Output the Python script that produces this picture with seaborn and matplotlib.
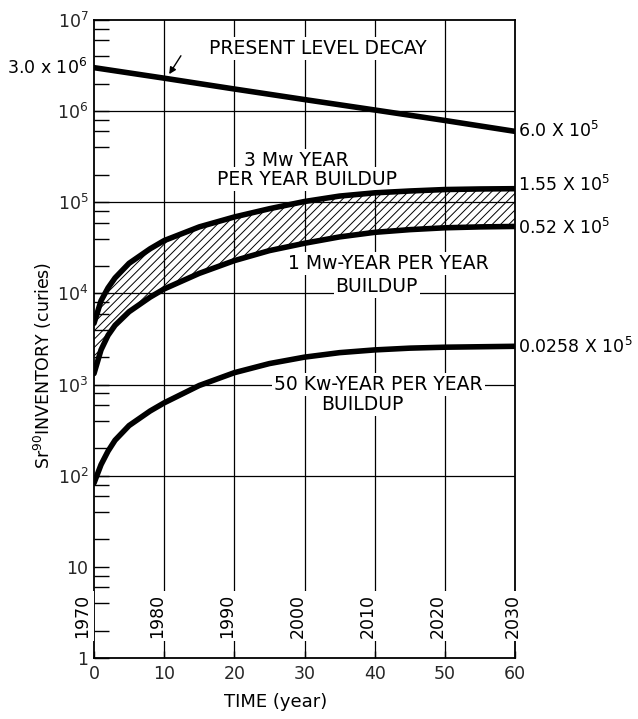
import numpy as np
import pandas as pd
import matplotlib
matplotlib.use("Agg")
import matplotlib.pyplot as plt
import seaborn as sns
from matplotlib.ticker import LogLocator, NullFormatter

# values
T_BUILD = [0, 1, 2, 3, 5, 8, 10, 15, 20, 25, 30, 35, 40, 45, 50, 55, 60]
MW3 = [4.7e3, 8.3e3, 1.15e4, 1.48e4, 2.14e4, 3.09e4, 3.8e4, 5.37e4, 6.9e4, 8.5e4,
       1.02e5, 1.17e5, 1.27e5, 1.33e5, 1.38e5, 1.40e5, 1.41e5]
MW1 = [1.32e3, 2.4e3, 3.47e3, 4.47e3, 6.3e3, 9.1e3, 1.12e4, 1.66e4, 2.29e4, 2.95e4,
       3.55e4, 4.17e4, 4.68e4, 5.01e4, 5.25e4, 5.37e4, 5.43e4]
KW50 = [83, 132, 186, 245, 355, 513, 630, 977, 1350, 1700,
        2000, 2240, 2400, 2510, 2570, 2600, 2630]

T_DECAY = [0, 10, 20, 30, 40, 50, 60]
DECAY = [3.0e6, 2.3e6, 1.75e6, 1.34e6, 1.03e6, 7.9e5, 6.0e5]

X_TICKS = [0, 10, 20, 30, 40, 50, 60]
YEARS = ["1970", "1980", "1990", "2000", "2010", "2020", "2030"]
YEAR_POS = [-1.7, 9.0, 19.0, 29.0, 39.0, 49.0, 59.7]
Y_TICKS = [1, 10, 1e2, 1e3, 1e4, 1e5, 1e6, 1e7]
Y_LABELS = ["1", "10", "$10^2$", "$10^3$", "$10^4$", "$10^5$", "$10^6$", "$10^7$"]
GRID_Y = [1e2, 1e3, 1e4, 1e5, 1e6]
GRID_X = [10, 20, 30, 40, 50]

END_LABELS = ["6.0 X 10$^5$", "1.55 X 10$^5$", "0.52 X 10$^5$", "0.0258 X 10$^5$"]
END_VALUES = [6.0e5, 1.55e5, 5.2e4, 2.58e3]

sns.set_theme(style="ticks")
plt.rcParams["font.family"] = ["DejaVu Sans"]
plt.rcParams["hatch.linewidth"] = 0.7
plt.rcParams["mathtext.fontset"] = "dejavusans"

build = pd.DataFrame({"t": T_BUILD, "mw3": MW3, "mw1": MW1, "kw50": KW50})
decay = pd.DataFrame({"t": T_DECAY, "v": DECAY})

fig = plt.figure(figsize=(6.38, 7.19), dpi=100)
ax = fig.add_axes([94 / 638, 1 - 658 / 719, 421 / 638, 638 / 719])
ax.set_yscale("log")

for g in GRID_X:
    ax.axvline(g, color="black", lw=0.9, zorder=1)
for g in GRID_Y:
    ax.axhline(g, color="black", lw=0.9, zorder=1)

ax.fill_between(build["t"], build["mw1"], build["mw3"], facecolor="none",
                edgecolor="black", hatch="////", linewidth=0, zorder=2)

line_kw = dict(color="black", linewidth=4, zorder=5, legend=False)
sns.lineplot(data=decay, x="t", y="v", ax=ax, **line_kw)
sns.lineplot(data=build, x="t", y="mw3", ax=ax, **line_kw)
sns.lineplot(data=build, x="t", y="mw1", ax=ax, **line_kw)
sns.lineplot(data=build, x="t", y="kw50", ax=ax, **line_kw)

ax.set_xlim(0, 60)
ax.set_ylim(1, 1e7)
ax.set_xticks(X_TICKS)
ax.set_xticklabels([str(x) for x in X_TICKS], fontsize=12.5)
ax.set_yticks(Y_TICKS)
ax.set_yticklabels(Y_LABELS, fontsize=12.5)
ax.yaxis.set_minor_locator(LogLocator(base=10, subs=[2, 4, 6, 8]))
ax.yaxis.set_minor_formatter(NullFormatter())
ax.tick_params(axis="y", which="both", direction="in", length=11, width=1,
               color="black", pad=4)
ax.tick_params(axis="x", which="both", direction="in", length=5, width=1,
               color="black", pad=5)
for s in ax.spines.values():
    s.set_color("black")
    s.set_linewidth(1.3)

ax.set_xlabel("TIME (year)", fontsize=13, color="black")
ax.xaxis.set_label_coords((276 - 94) / 421, -0.055)
ax.set_ylabel("Sr$^{90}$INVENTORY (curies)", fontsize=12.5, color="black")
ax.yaxis.set_label_coords(-0.094, (658 - 365) / 638)

box = dict(facecolor="white", edgecolor="none", pad=1.5)
txt = dict(fontsize=13.5, color="black", zorder=4, bbox=box)

ax.text(31.9, 4.9e6, "PRESENT LEVEL DECAY", ha="center", va="center", **txt)
ax.annotate("", xy=(10.5, 2.4e6), xytext=(12.6, 4.3e6),
            arrowprops=dict(arrowstyle="-|>", color="black", lw=1,
                            mutation_scale=10), zorder=6)
ax.text(-0.9, 3.0e6, "3.0 x 10$^6$", ha="right", va="center", clip_on=False,
        fontsize=12.5, color="black")

ax.text(28.8, 2.9e5, "3 Mw YEAR", ha="center", va="center", **txt)
ax.text(30.3, 1.8e5, "PER YEAR BUILDUP", ha="center", va="center", **txt)
ax.text(41.9, 2.15e4, "1 Mw-YEAR PER YEAR", ha="center", va="center", **txt)
ax.text(40.3, 1.2e4, "BUILDUP", ha="center", va="center", **txt)
ax.text(40.5, 1.0e3, "50 Kw-YEAR PER YEAR", ha="center", va="center", **txt)
ax.text(38.2, 6.0e2, "BUILDUP", ha="center", va="center", **txt)

for lab, v in zip(END_LABELS, END_VALUES):
    ax.text(60.4, v, lab, ha="left", va="center", clip_on=False,
            fontsize=12.5, color="black")

for lab, x in zip(YEARS, YEAR_POS):
    ax.text(x, 2.9, lab, rotation=90, ha="center", va="center", clip_on=False,
            fontsize=12.5, color="black", zorder=4,
            bbox=dict(facecolor="white", edgecolor="none", pad=2))

fig.savefig("out.png", dpi=100)
